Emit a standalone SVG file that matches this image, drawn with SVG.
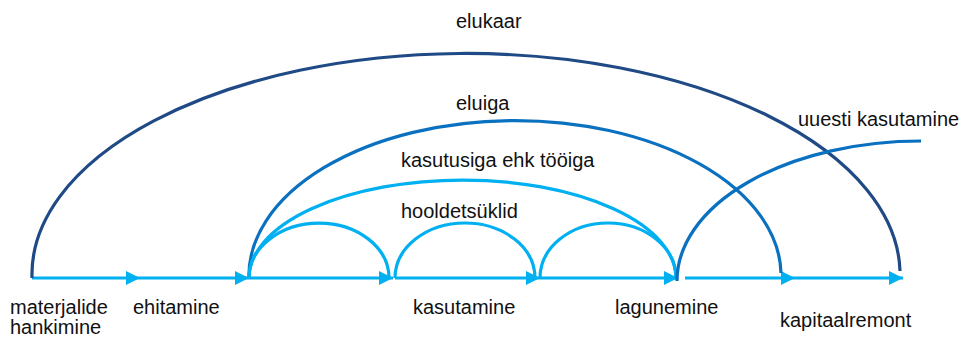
<svg xmlns="http://www.w3.org/2000/svg" width="960" height="337" viewBox="0 0 960 337">
  <style>
    text { font-family: "Liberation Sans", Arial, sans-serif; font-size: 20px; fill: #111; }
    .seg { stroke: #00B0F0; stroke-width: 3.2; fill: none; marker-end: url(#head); }
    .arc { fill: none; stroke-width: 3.2; stroke-linecap: butt; }
    .navy { stroke: #1F4A85; }
    .mid { stroke: #0A70C0; }
    .light { stroke: #00B0F0; }
  </style>
  <defs>
    <marker id="head" markerUnits="userSpaceOnUse" markerWidth="16" markerHeight="14" refX="14" refY="7" orient="auto">
      <path d="M0,0 L14,7 L0,14 Z" fill="#00B0F0"/>
    </marker>
  </defs>
  <rect width="960" height="337" fill="#fff"/>

  <!-- connectors: timeline arrows and span arcs -->
  <g id="connectors">
    <line class="seg" x1="32" y1="278" x2="140" y2="278"/>
    <line class="seg" x1="140" y1="278" x2="249" y2="278"/>
    <line class="seg" x1="249" y1="278" x2="393" y2="278"/>
    <line class="seg" x1="395" y1="278" x2="540" y2="278"/>
    <line class="seg" x1="540" y1="278" x2="678" y2="278"/>
    <line class="seg" x1="685" y1="278" x2="795" y2="278"/>
    <line class="seg" x1="795" y1="278" x2="903" y2="278"/>

    <!-- elukaar -->
    <path class="arc navy" d="M32,278 A434,221 0 0 1 900,271"/>
    <!-- eluiga -->
    <path class="arc mid" d="M249,278 A266,155 0 0 1 781,273"/>
    <!-- kasutusiga ehk tööiga -->
    <path class="arc light" d="M249,278 A213.5,98 0 0 1 676,278"/>
    <!-- hooldetsüklid -->
    <path class="arc light" d="M249,278 A70,55 0 0 1 389,278"/>
    <path class="arc light" d="M395,278 A70,55 0 0 1 535,278"/>
    <path class="arc light" d="M540,278 A68,55 0 0 1 676,278"/>
    <!-- uuesti kasutamine -->
    <path class="arc mid" d="M677,281 A244,140 0 0 1 921,141"/>
  </g>

  <g id="span-elukaar"><text x="456" y="28">elukaar</text></g>
  <g id="span-eluiga"><text x="456" y="110">eluiga</text></g>
  <g id="span-kasutusiga"><text x="401" y="167">kasutusiga ehk tööiga</text></g>
  <g id="span-hooldetsyklid"><text x="401" y="218">hooldetsüklid</text></g>
  <g id="span-uuesti"><text x="798" y="126">uuesti kasutamine</text></g>

  <g id="stage-materjalide"><text x="10" y="314">materjalide</text><text x="10" y="334">hankimine</text></g>
  <g id="stage-ehitamine"><text x="133" y="314">ehitamine</text></g>
  <g id="stage-kasutamine"><text x="413" y="314">kasutamine</text></g>
  <g id="stage-lagunemine"><text x="615" y="314">lagunemine</text></g>
  <g id="stage-kapitaalremont"><text x="780" y="327">kapitaalremont</text></g>
</svg>
